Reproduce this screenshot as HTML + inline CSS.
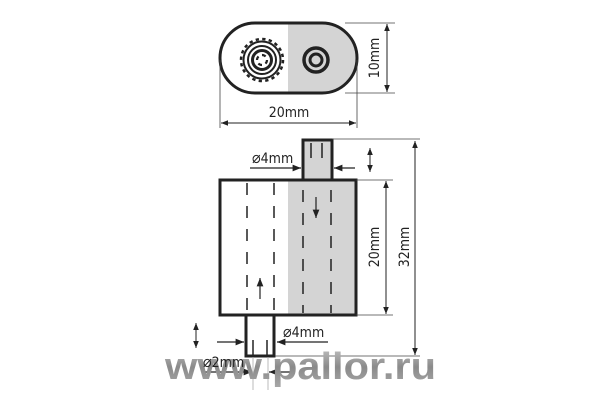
<!DOCTYPE html>
<html><head><meta charset="utf-8"><style>
html,body{margin:0;padding:0;background:#fff;width:600px;height:400px;overflow:hidden}
text{font-family:"DejaVu Sans Condensed","Liberation Sans",sans-serif}
</style></head><body>
<svg width="600" height="400" viewBox="0 0 600 400" xmlns="http://www.w3.org/2000/svg">
<defs>
<marker id="a" viewBox="0 0 10 10" refX="10" refY="5" markerWidth="7" markerHeight="7" orient="auto-start-reverse"><path d="M0,1 L10,5 L0,9 z" fill="#222"/></marker>
<linearGradient id="g" x1="0" y1="0" x2="0" y2="1"><stop offset="0" stop-color="#c4c4c4"/><stop offset="0.5" stop-color="#8a8a8a"/><stop offset="1" stop-color="#a8a8a8"/></linearGradient>
</defs>
<!-- top view -->
<path d="M288,23 H322 A35,35 0 0 1 322,93 H288 Z" fill="#d4d4d4"/>
<rect x="220" y="23" width="137" height="70" rx="35" fill="none" stroke="#222" stroke-width="3"/>
<g fill="none" stroke="#222">
<circle cx="262" cy="60" r="21" stroke-width="2.5" stroke-dasharray="3.3 3.3"/>
<circle cx="262" cy="60" r="18.5" stroke-width="2"/>
<circle cx="262" cy="60" r="14" stroke-width="2"/>
<circle cx="262" cy="60" r="9.5" stroke-width="3"/>
<circle cx="262" cy="60" r="5" stroke-width="2.2" stroke-dasharray="4 3.8"/>
<circle cx="316" cy="60" r="12" stroke-width="3.5"/>
<circle cx="316" cy="60" r="6" stroke-width="3"/>
</g>
<g stroke="#444" stroke-width="0.8">
<line x1="345" y1="23" x2="395" y2="23"/><line x1="345" y1="93" x2="395" y2="93"/>
<line x1="220" y1="60" x2="220" y2="128"/><line x1="357" y1="60" x2="357" y2="128"/>
</g>
<g stroke="#222" stroke-width="1" marker-start="url(#a)" marker-end="url(#a)">
<line x1="387" y1="24" x2="387" y2="92"/>
<line x1="221" y1="123" x2="356" y2="123"/>
</g>
<text x="289" y="117" font-size="14" text-anchor="middle" fill="#222">20mm</text>
<text transform="translate(379,58) rotate(-90)" font-size="14" text-anchor="middle" fill="#222">10mm</text>
<!-- side view -->
<rect x="288" y="180" width="68" height="135" fill="#d4d4d4"/>
<rect x="303" y="140" width="29" height="40" fill="#d4d4d4" stroke="#222" stroke-width="3"/>
<rect x="246" y="315" width="28" height="41" fill="#fff" stroke="#222" stroke-width="3"/>
<rect x="220" y="180" width="136" height="135" fill="none" stroke="#222" stroke-width="3"/>
<g stroke="#222" stroke-width="1.5">
<line x1="311" y1="143" x2="311" y2="158"/><line x1="322" y1="143" x2="322" y2="158"/>
<line x1="253" y1="340" x2="253" y2="355"/><line x1="267" y1="340" x2="267" y2="355"/>
</g>
<g stroke="#222" stroke-width="1.5" stroke-dasharray="12 11">
<line x1="247" y1="183" x2="247" y2="313"/><line x1="274" y1="183" x2="274" y2="313"/>
<line x1="303" y1="190" x2="303" y2="313"/><line x1="331" y1="190" x2="331" y2="313"/>
</g>
<g stroke="#222" stroke-width="1.2" marker-end="url(#a)">
<line x1="316" y1="197" x2="316" y2="218"/>
<line x1="260" y1="299" x2="260" y2="278"/>
<line x1="250" y1="168" x2="301" y2="168"/>
<line x1="355" y1="168" x2="334" y2="168"/>
<line x1="217" y1="342" x2="244" y2="342"/>
<line x1="328" y1="342" x2="277" y2="342"/>
<line x1="203" y1="372" x2="252" y2="372"/>
<line x1="292" y1="372" x2="269" y2="372"/>
</g>
<g stroke="#222" stroke-width="1" marker-start="url(#a)" marker-end="url(#a)">
<line x1="370" y1="148" x2="370" y2="172"/>
<line x1="196" y1="323" x2="196" y2="348"/>
<line x1="386" y1="181" x2="386" y2="314"/>
<line x1="415" y1="141" x2="415" y2="355"/>
</g>
<g stroke="#444" stroke-width="0.8">
<line x1="332" y1="139" x2="420" y2="139"/>
<line x1="275" y1="356" x2="420" y2="356"/>
<line x1="356" y1="180" x2="393" y2="180"/>
<line x1="356" y1="315" x2="393" y2="315"/>
<line x1="253" y1="357" x2="253" y2="390" stroke="#aaa"/>
<line x1="268" y1="357" x2="268" y2="390" stroke="#aaa"/>
</g>
<text x="165" y="379" font-size="38" font-weight="bold" fill="url(#g)" textLength="271" lengthAdjust="spacingAndGlyphs" style='font-family:"Liberation Sans",sans-serif'>www.pallor.ru</text>
<text x="252" y="163" font-size="14" fill="#222"><tspan font-size="16">⌀</tspan>4mm</text>
<text x="283" y="337" font-size="14" fill="#222"><tspan font-size="16">⌀</tspan>4mm</text>
<text x="203" y="367" font-size="14" fill="#222"><tspan font-size="16">⌀</tspan>2mm</text>
<text transform="translate(379,247) rotate(-90)" font-size="14" text-anchor="middle" fill="#222">20mm</text>
<text transform="translate(409,247) rotate(-90)" font-size="14" text-anchor="middle" fill="#222">32mm</text>
</svg>
</body></html>
